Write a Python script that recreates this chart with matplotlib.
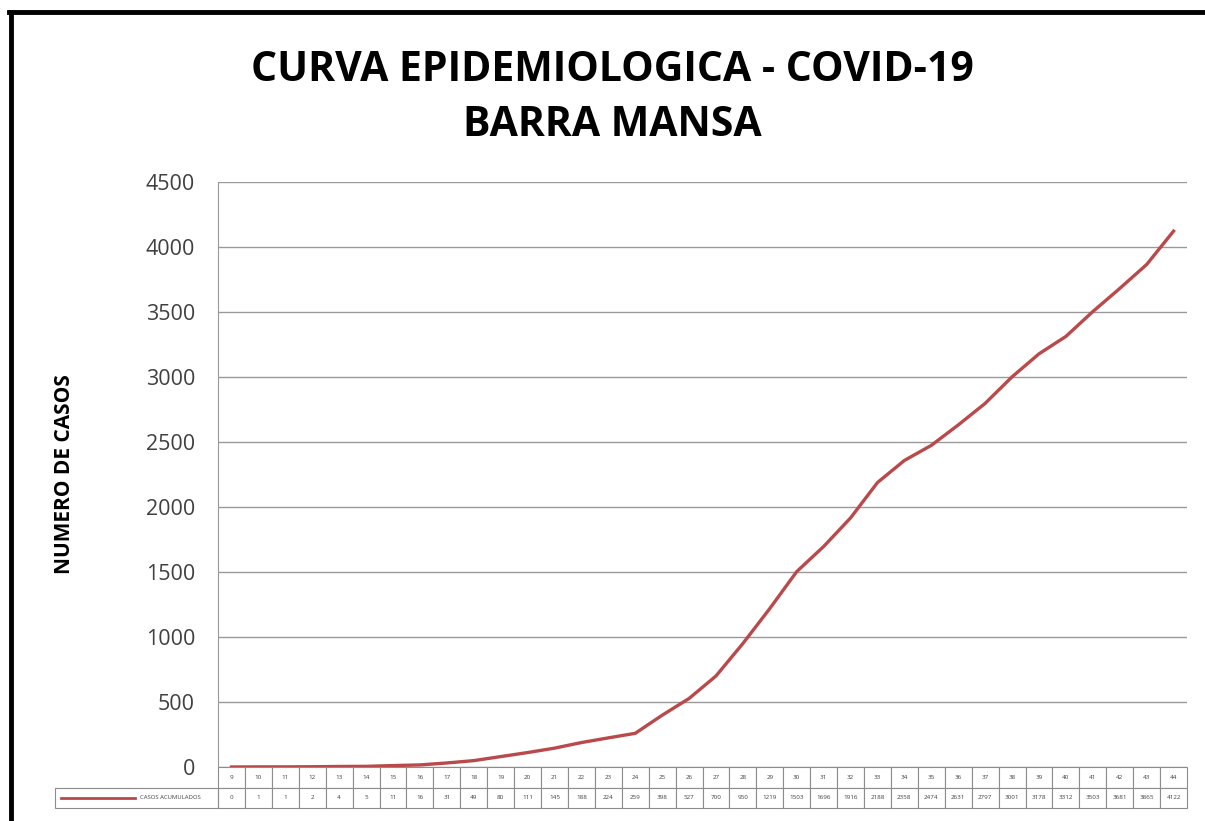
import matplotlib.pyplot as plt
from matplotlib.lines import Line2D
from matplotlib.patches import Rectangle

dias = list(range(9, 45))
casos = [0, 1, 1, 2, 4, 5, 11, 16, 31, 49, 80, 111, 145, 188, 224, 259,
         398, 527, 700, 950, 1219, 1503, 1696, 1916, 2188, 2358, 2474, 2631,
         2797, 3001, 3178, 3312, 3503, 3681, 3865, 4122]
yticks = [0, 500, 1000, 1500, 2000, 2500, 3000, 3500, 4000, 4500]

cor_linha = '#B9494A'
plt.rcParams['font.family'] = ['Open Sans', 'DejaVu Sans']

fig = plt.figure(figsize=(12.05, 8.21), dpi=100)
ax = fig.add_axes([218 / 1205, 1 - 767 / 821, 969 / 1205, 585 / 821])

x = list(range(len(dias)))
ax.plot(x, casos, color=cor_linha, lw=2.4, solid_joinstyle='round')
ax.set_xlim(-0.5, len(dias) - 0.5)
ax.set_ylim(0, 4500)
ax.set_yticks(yticks)
ax.set_yticklabels([str(v) for v in yticks], fontsize=15.5, color='#404040')
ax.tick_params(axis='y', length=0, pad=16.5)
ax.set_xticks([])
ax.grid(axis='y', color='#999999', lw=1)
ax.set_axisbelow(True)
for s in ['top', 'right', 'bottom']:
    ax.spines[s].set_visible(False)
ax.spines['left'].set_color('#999999')
ax.set_ylabel('NUMERO DE CASOS', fontsize=15, fontweight='bold', labelpad=51)

# tabela de dados abaixo do grafico
h = 41 / 585
tbl = ax.table(cellText=[[str(d) for d in dias], [str(c) for c in casos]],
               cellLoc='center', bbox=[0, -h, 1, h])
tbl.auto_set_font_size(False)
tbl.set_fontsize(4.5)
for cell in tbl.get_celld().values():
    cell.set_edgecolor('#8c8c8c')
    cell.set_linewidth(0.8)
    cell.get_text().set_color('#404040')

# celula da legenda
lx = -163 / 969
ax.add_patch(Rectangle((lx, -h), -lx, h / 2, transform=ax.transAxes,
                       fill=False, edgecolor='#8c8c8c', lw=0.8, clip_on=False))
ax.plot([lx + 0.006, lx + 0.083], [-0.75 * h, -0.75 * h], color=cor_linha,
        lw=2, transform=ax.transAxes, clip_on=False)
ax.text(lx + 0.088, -0.75 * h, 'CASOS ACUMULADOS', fontsize=4.3, color='#404040',
        va='center', ha='left', transform=ax.transAxes)

fig.text(0.508, 1 - 98 / 821, 'CURVA EPIDEMIOLOGICA - COVID-19\nBARRA MANSA',
         ha='center', va='center', fontsize=29.5, fontweight='bold',
         linespacing=1.42)

# moldura preta
fig.add_artist(Line2D([11 / 1205, 11 / 1205], [0, 1 - 12 / 821], color='black',
                      lw=3.5, transform=fig.transFigure))
fig.add_artist(Line2D([9 / 1205, 1], [1 - 12 / 821, 1 - 12 / 821], color='black',
                      lw=3.5, transform=fig.transFigure))

fig.savefig('out.png', dpi=100)
